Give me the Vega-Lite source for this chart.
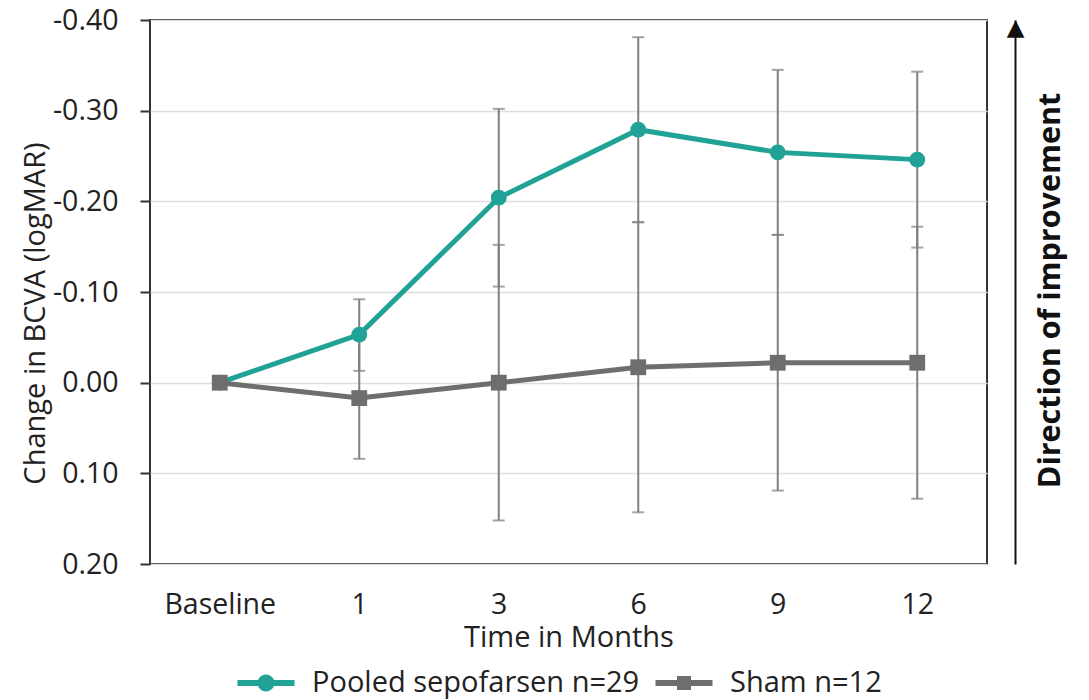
{
  "$schema": "https://vega.github.io/schema/vega-lite/v6.json",
  "width": 837,
  "height": 544,
  "autosize": {"type": "none"},
  "padding": {"left": 150, "top": 20, "right": 102, "bottom": 136},
  "background": "white",
  "config": {
    "font": "Open Sans",
    "view": {"stroke": "#333333", "strokeWidth": 2}
  },
  "data": {
    "values": [
      {"group": "Pooled sepofarsen n=29", "time": "Baseline", "mean": 0, "lo": null, "hi": null},
      {"group": "Pooled sepofarsen n=29", "time": "1", "mean": -0.053, "lo": -0.092, "hi": -0.013},
      {"group": "Pooled sepofarsen n=29", "time": "3", "mean": -0.204, "lo": -0.302, "hi": -0.106},
      {"group": "Pooled sepofarsen n=29", "time": "6", "mean": -0.279, "lo": -0.381, "hi": -0.177},
      {"group": "Pooled sepofarsen n=29", "time": "9", "mean": -0.254, "lo": -0.345, "hi": -0.163},
      {"group": "Pooled sepofarsen n=29", "time": "12", "mean": -0.246, "lo": -0.343, "hi": -0.149},
      {"group": "Sham n=12", "time": "Baseline", "mean": 0, "lo": null, "hi": null},
      {"group": "Sham n=12", "time": "1", "mean": 0.017, "lo": -0.050, "hi": 0.084},
      {"group": "Sham n=12", "time": "3", "mean": 0.000, "lo": -0.152, "hi": 0.152},
      {"group": "Sham n=12", "time": "6", "mean": -0.017, "lo": -0.177, "hi": 0.143},
      {"group": "Sham n=12", "time": "9", "mean": -0.022, "lo": -0.163, "hi": 0.119},
      {"group": "Sham n=12", "time": "12", "mean": -0.022, "lo": -0.172, "hi": 0.128}
    ]
  },
  "encoding": {
    "x": {
      "field": "time",
      "type": "ordinal",
      "sort": ["Baseline", "1", "3", "6", "9", "12"],
      "scale": {"type": "point", "padding": 0.5},
      "axis": {
        "title": "Time in Months",
        "labelAngle": 0,
        "labelFontSize": 28.5,
        "labelColor": "#222222",
        "labelPadding": 26,
        "ticks": false,
        "tickSize": 0,
        "domain": false,
        "grid": false,
        "titleFontSize": 29,
        "titleFontWeight": "normal",
        "titleColor": "#222222",
        "titlePadding": 5
      }
    }
  },
  "layer": [
    {
      "mark": {"type": "rule", "color": "#7f7f7f", "strokeWidth": 2},
      "encoding": {
        "y": {
          "field": "lo",
          "type": "quantitative",
          "scale": {"domain": [-0.4, 0.2], "reverse": true, "nice": false, "zero": false},
          "axis": {
            "orient": "left",
            "title": "Change in BCVA (logMAR)",
            "values": [-0.4, -0.3, -0.2, -0.1, 0, 0.1, 0.2],
            "labelExpr": "replace(format(datum.value, '.2f'), '\u2212', '-')",
            "labelFontSize": 28.5,
            "labelColor": "#222222",
            "labelPadding": 22,
            "tickSize": 10,
            "tickColor": "#333333",
            "tickWidth": 2,
            "domain": false,
            "grid": true,
            "gridColor": "#dddddd",
            "gridWidth": 1.5,
            "titleFontSize": 29,
            "titleFontWeight": "normal",
            "titleColor": "#222222",
            "titlePadding": 2,
            "titleY": 293
          }
        },
        "y2": {"field": "hi"}
      }
    },
    {
      "mark": {"type": "tick", "color": "#7f7f7f", "thickness": 2, "size": 12},
      "encoding": {
        "y": {"field": "lo", "type": "quantitative", "axis": null}
      }
    },
    {
      "mark": {"type": "tick", "color": "#7f7f7f", "thickness": 2, "size": 12},
      "encoding": {
        "y": {"field": "hi", "type": "quantitative", "axis": null}
      }
    },
    {
      "mark": {"type": "line", "strokeWidth": 5},
      "encoding": {
        "y": {
          "field": "mean",
          "type": "quantitative",
          "axis": {
            "orient": "right",
            "offset": 28,
            "title": "Direction of improvement",
            "titleFontSize": 30.5,
            "titleFontWeight": "bold",
            "titleAngle": 270,
            "titleColor": "#111111",
            "titlePadding": 42,
            "titleY": 270,
            "domainColor": "#111111",
            "domainWidth": 2,
            "ticks": false,
            "tickSize": 0,
            "grid": false,
            "values": [-0.4],
            "labelExpr": "'\u25b2'",
            "labelFont": "DejaVu Sans",
            "labelFontSize": 23,
            "labelAlign": "center",
            "labelBaseline": "top",
            "labelPadding": 0,
            "labelOffset": -4,
            "labelColor": "#111111"
          }
        },
        "color": {
          "field": "group",
          "type": "nominal",
          "scale": {"range": ["#20a396", "#6e6e6e"]},
          "legend": {
            "orient": "none",
            "legendX": 91,
            "legendY": 638,
            "direction": "horizontal",
            "title": null,
            "padding": 0,
            "symbolSize": 2500,
            "labelFontSize": 29,
            "labelColor": "#222222",
            "labelOffset": 21,
            "labelLimit": 0,
            "columnPadding": 15,
            "encode": {
              "symbols": {
                "update": {
                  "shape": {"signal": "datum.value == 'Sham n=12' ? 'M-1.14,-0.12H1.14V0.12H-1.14Z M-0.28,-0.28H0.28V0.28H-0.28Z' : 'M-1.14,-0.12H1.14V0.12H-1.14Z M0,-0.34A0.34,0.34 0 1,1 0,0.34A0.34,0.34 0 1,1 0,-0.34Z'"},
                  "fill": {"signal": "scale('color', datum.value)"},
                  "strokeWidth": {"value": 0},
                  "opacity": {"value": 1}
                }
              }
            }
          }
        }
      }
    },
    {
      "mark": {"type": "point", "filled": true, "size": 250, "opacity": 1},
      "encoding": {
        "y": {"field": "mean", "type": "quantitative", "axis": null},
        "color": {"field": "group", "type": "nominal", "legend": null},
        "shape": {
          "field": "group",
          "type": "nominal",
          "scale": {"range": ["circle", "square"]},
          "legend": null
        }
      }
    }
  ],
  "resolve": {"axis": {"y": "independent"}}
}
